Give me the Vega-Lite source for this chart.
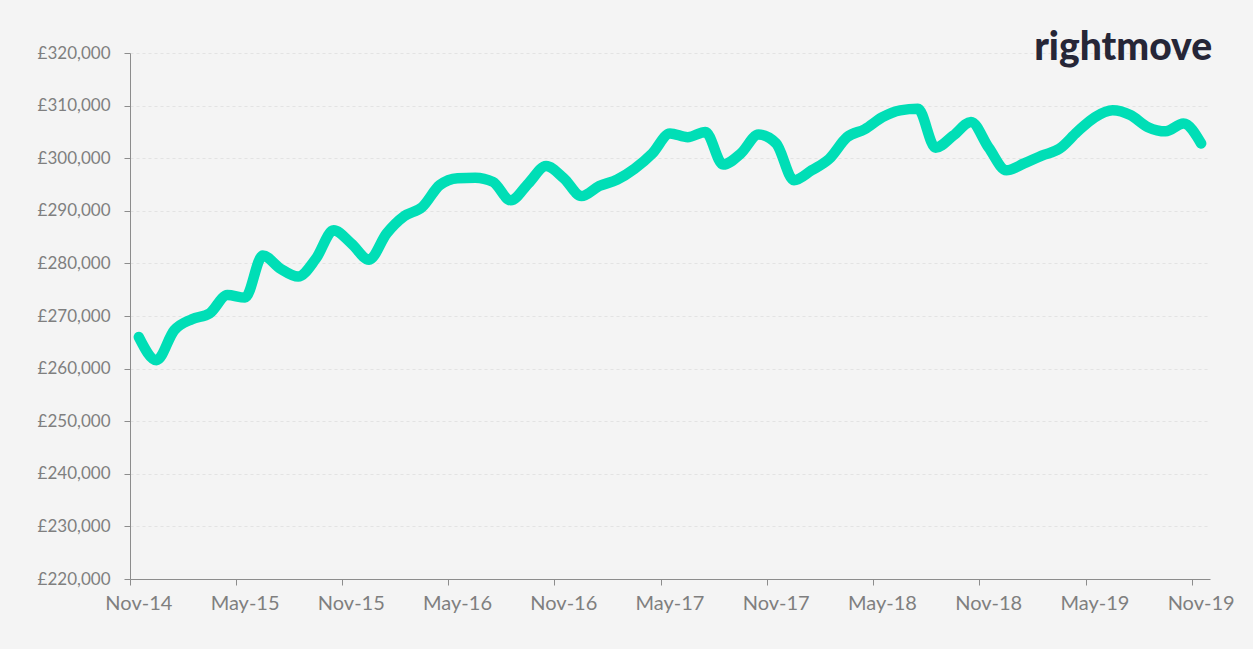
{
  "$schema": "https://vega.github.io/schema/vega-lite/v6.json",
  "width": 1080,
  "height": 526,
  "autosize": {"type": "none"},
  "padding": {"left": 130, "top": 53, "right": 43, "bottom": 70},
  "background": "#f4f4f4",
  "config": {"view": {"stroke": null}, "font": "Lato"},
  "title": {
    "text": "rightmove",
    "anchor": "end",
    "orient": "top",
    "font": "Lato",
    "fontSize": 39,
    "fontWeight": 900,
    "color": "#262637",
    "baseline": "alphabetic",
    "offset": -8,
    "dy": 47,
    "dx": -22
  },
  "data": {
    "values": [
      {"month": "Nov-14", "price": 266000},
      {"month": "Dec-14", "price": 261600},
      {"month": "Jan-15", "price": 267300},
      {"month": "Feb-15", "price": 269400},
      {"month": "Mar-15", "price": 270500},
      {"month": "Apr-15", "price": 274000},
      {"month": "May-15", "price": 273500},
      {"month": "Jun-15", "price": 281500},
      {"month": "Jul-15", "price": 279000},
      {"month": "Aug-15", "price": 277500},
      {"month": "Sep-15", "price": 280900},
      {"month": "Oct-15", "price": 286300},
      {"month": "Nov-15", "price": 283800},
      {"month": "Dec-15", "price": 280700},
      {"month": "Jan-16", "price": 285700},
      {"month": "Feb-16", "price": 289000},
      {"month": "Mar-16", "price": 290700},
      {"month": "Apr-16", "price": 294900},
      {"month": "May-16", "price": 296200},
      {"month": "Jun-16", "price": 296300},
      {"month": "Jul-16", "price": 295500},
      {"month": "Aug-16", "price": 292000},
      {"month": "Sep-16", "price": 295200},
      {"month": "Oct-16", "price": 298500},
      {"month": "Nov-16", "price": 296200},
      {"month": "Dec-16", "price": 292800},
      {"month": "Jan-17", "price": 294700},
      {"month": "Feb-17", "price": 295900},
      {"month": "Mar-17", "price": 298000},
      {"month": "Apr-17", "price": 300900},
      {"month": "May-17", "price": 304700},
      {"month": "Jun-17", "price": 304000},
      {"month": "Jul-17", "price": 305000},
      {"month": "Aug-17", "price": 298800},
      {"month": "Sep-17", "price": 300900},
      {"month": "Oct-17", "price": 304500},
      {"month": "Nov-17", "price": 302800},
      {"month": "Dec-17", "price": 295800},
      {"month": "Jan-18", "price": 297700},
      {"month": "Feb-18", "price": 299900},
      {"month": "Mar-18", "price": 304000},
      {"month": "Apr-18", "price": 305500},
      {"month": "May-18", "price": 307800},
      {"month": "Jun-18", "price": 309100},
      {"month": "Jul-18", "price": 309400},
      {"month": "Aug-18", "price": 302000},
      {"month": "Sep-18", "price": 304300},
      {"month": "Oct-18", "price": 306900},
      {"month": "Nov-18", "price": 302000},
      {"month": "Dec-18", "price": 297700},
      {"month": "Jan-19", "price": 299000},
      {"month": "Feb-19", "price": 300500},
      {"month": "Mar-19", "price": 301800},
      {"month": "Apr-19", "price": 305000},
      {"month": "May-19", "price": 307800},
      {"month": "Jun-19", "price": 309100},
      {"month": "Jul-19", "price": 308200},
      {"month": "Aug-19", "price": 305900},
      {"month": "Sep-19", "price": 305100},
      {"month": "Oct-19", "price": 306600},
      {"month": "Nov-19", "price": 302800}
    ]
  },
  "mark": {
    "type": "line",
    "interpolate": "monotone",
    "strokeWidth": 10.5,
    "color": "#00deb6",
    "strokeCap": "round",
    "strokeJoin": "round"
  },
  "encoding": {
    "x": {
      "field": "month",
      "type": "ordinal",
      "sort": null,
      "scale": {"type": "band", "paddingInner": 0, "paddingOuter": 0},
      "axis": {
        "title": null,
        "values": ["Nov-14", "May-15", "Nov-15", "May-16", "Nov-16", "May-17", "Nov-17", "May-18", "Nov-18", "May-19", "Nov-19"],
        "labelAngle": 0,
        "bandPosition": 0,
        "labelFontSize": 20,
        "labelColor": "#7f7f7f",
        "labelPadding": 8,
        "domainColor": "#8c8c8c",
        "tickColor": "#8c8c8c",
        "tickSize": 6,
        "grid": false
      }
    },
    "y": {
      "field": "price",
      "type": "quantitative",
      "scale": {"domain": [220000, 320000], "nice": false, "zero": false},
      "axis": {
        "title": null,
        "values": [220000, 230000, 240000, 250000, 260000, 270000, 280000, 290000, 300000, 310000, 320000],
        "labelExpr": "'£' + format(datum.value, ',')",
        "labelFontSize": 17,
        "labelColor": "#7f7f7f",
        "labelPadding": 14,
        "domainColor": "#8c8c8c",
        "tickColor": "#8c8c8c",
        "tickSize": 6,
        "grid": true,
        "gridColor": "#e3e3e3",
        "gridDash": [3, 3]
      }
    }
  }
}
